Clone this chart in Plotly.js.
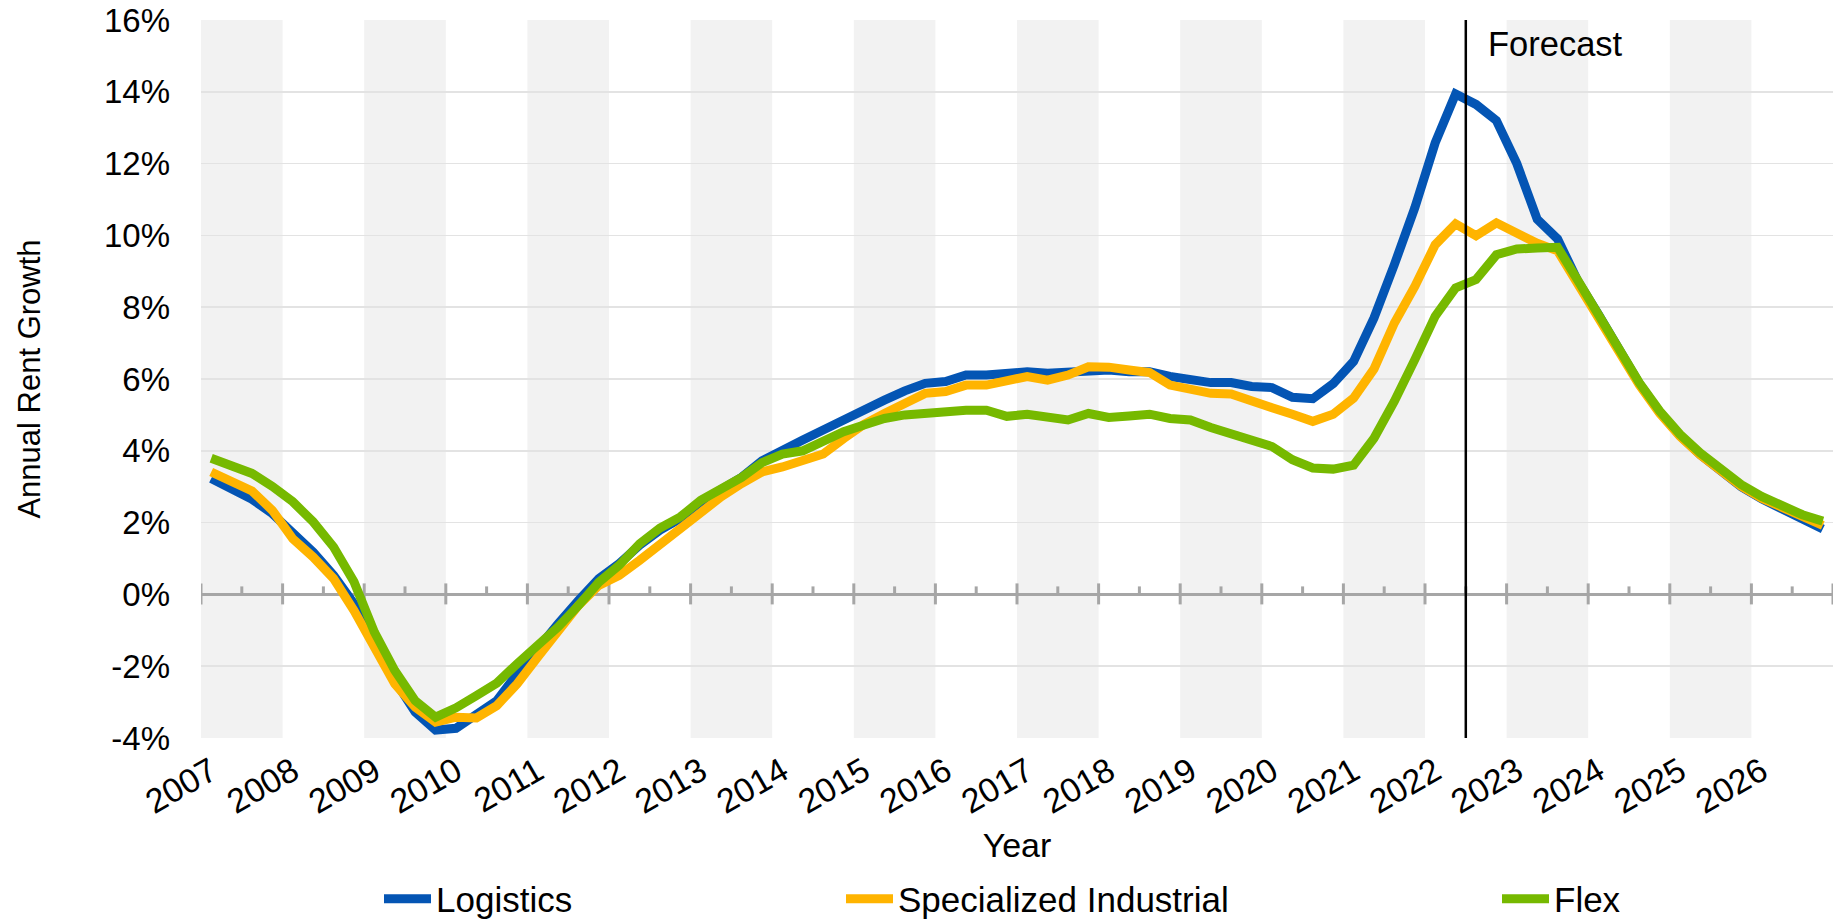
<!DOCTYPE html>
<html>
<head>
<meta charset="utf-8">
<script src="https://cdn.plot.ly/plotly-3.0.1.min.js"></script>
<style>
  html, body { margin: 0; padding: 0; background: #ffffff; }
  #chart { width: 1844px; height: 919px; }
</style>
</head>
<body>
<div id="chart"></div>
<script>
// ---- Data (quarterly, 2007 Q1 – 2026 Q4), annual rent growth in % ----
const startYear = 2007;
const endYear = 2026;
const forecastStart = 2022.5;

const yearLabels = ["2007","2008","2009","2010","2011","2012","2013","2014","2015","2016",
                    "2017","2018","2019","2020","2021","2022","2023","2024","2025","2026"];

const yTickValues = [-4, -2, 0, 2, 4, 6, 8, 10, 12, 14, 16];
const yTickLabels = ["-4%", "-2%", "0%", "2%", "4%", "6%", "8%", "10%", "12%", "14%", "16%"];

const logistics = [
  3.23, 2.95, 2.65, 2.25, 1.69, 1.18, 0.53, -0.26,
  -1.24, -2.40, -3.28, -3.78, -3.73, -3.38, -2.96, -2.21,
  -1.47, -0.82, -0.17, 0.44, 0.86, 1.37, 1.79, 2.11,
  2.58, 2.93, 3.26, 3.72, 4.04, 4.30, 4.58, 4.86,
  5.18, 5.41, 5.67, 5.88, 5.93, 6.11, 6.11, 6.16,
  6.20, 6.16, 6.20, 6.27, 6.25, 6.20, 6.20, 6.07,
  5.97, 5.90, 5.90, 5.79, 5.76, 5.49, 5.45, 5.87,
  6.49, 7.70, 9.19, 10.77, 12.58, 13.94, 13.65, 13.20,
  12.00, 10.45, 9.90, 8.72, 7.80, 6.86, 5.88, 5.08,
  4.42, 3.89, 3.42, 3.00, 2.66, 2.38, 2.10, 1.82
];

const specializedIndustrial = [
  3.41, 3.13, 2.88, 2.34, 1.55, 1.04, 0.44, -0.45,
  -1.52, -2.49, -3.14, -3.56, -3.42, -3.44, -3.10, -2.49,
  -1.75, -1.00, -0.31, 0.25, 0.53, 0.95, 1.41, 1.83,
  2.27, 2.72, 3.09, 3.41, 3.55, 3.74, 3.91, 4.34,
  4.74, 5.04, 5.34, 5.60, 5.65, 5.83, 5.83, 5.93,
  6.07, 5.97, 6.11, 6.34, 6.33, 6.25, 6.18, 5.83,
  5.69, 5.60, 5.58, 5.37, 5.20, 5.02, 4.82, 5.02,
  5.47, 6.28, 7.56, 8.58, 9.74, 10.32, 9.99, 10.35,
  10.04, 9.78, 9.57, 8.65, 7.72, 6.80, 5.84, 5.05,
  4.40, 3.88, 3.42, 3.01, 2.68, 2.42, 2.17, 1.92
];

const flex = [
  3.79, 3.57, 3.37, 3.01, 2.58, 2.02, 1.32, 0.35,
  -1.05, -2.12, -2.96, -3.42, -3.16, -2.82, -2.47, -1.93,
  -1.42, -0.91, -0.31, 0.34, 0.81, 1.41, 1.85, 2.16,
  2.62, 2.95, 3.26, 3.67, 3.91, 4.00, 4.30, 4.53,
  4.72, 4.90, 5.00, 5.06, 5.12, 5.13, 5.13, 4.96,
  5.02, 4.92, 4.86, 5.04, 4.93, 4.97, 5.02, 4.90,
  4.86, 4.65, 4.47, 4.27, 4.12, 3.75, 3.52, 3.49,
  3.60, 4.35, 5.38, 6.54, 7.75, 8.54, 8.77, 9.46,
  9.62, 9.65, 9.67, 8.74, 7.80, 6.86, 5.90, 5.11,
  4.46, 3.94, 3.48, 3.06, 2.73, 2.46, 2.22, 2.04
];

const seriesNames = ["Logistics", "Specialized Industrial", "Flex"];
const seriesColors = ["#0455b4", "#ffb400", "#76b900"];

// ---- Derived positions (quarter centers on a continuous year axis) ----
const quarterX = logistics.map((_, i) => startYear + (i + 0.5) / 4);
const years = [];
for (let y = startYear; y <= endYear; y++) years.push(y);
const boundaries = years.concat([endYear + 1]);
const halfYears = years.map(y => y + 0.5);

const font = "'Liberation Sans', Arial, sans-serif";
const axisGrey = "#a6a6a6";

const traces = [logistics, specializedIndustrial, flex].map((vals, k) => ({
  type: "scatter",
  mode: "lines",
  name: seriesNames[k],
  x: quarterX,
  y: vals,
  line: { color: seriesColors[k], width: 9 },
  legend: k === 0 ? "legend" : ("legend" + (k + 1)),
  hoverinfo: "x+y+name"
}));

const shapes = [];
// alternating shaded year bands
years.forEach((y, idx) => {
  if (idx % 2 === 0) {
    shapes.push({
      type: "rect", xref: "x", yref: "paper",
      x0: y, x1: y + 1, y0: 0, y1: 1,
      fillcolor: "#f2f2f2", line: { width: 0 }, layer: "below"
    });
  }
});
// major tick marks crossing the 0% axis line
boundaries.forEach(b => {
  shapes.push({
    type: "line", xref: "x", yref: "y",
    x0: b, x1: b, ysizemode: "pixel", yanchor: 0, y0: -10, y1: 11,
    line: { color: axisGrey, width: 3 }, layer: "between"
  });
});
// minor tick marks (above the axis line)
halfYears.forEach(h => {
  shapes.push({
    type: "line", xref: "x", yref: "y",
    x0: h, x1: h, ysizemode: "pixel", yanchor: 0, y0: 0, y1: 8,
    line: { color: axisGrey, width: 3 }, layer: "between"
  });
});
// forecast divider
shapes.push({
  type: "line", xref: "x", yref: "paper",
  x0: forecastStart, x1: forecastStart, y0: 0, y1: 1,
  line: { color: "#000000", width: 2.5 }, layer: "above"
});

const legendCommon = {
  orientation: "h",
  xref: "container", yref: "container",
  yanchor: "middle", xanchor: "left",
  y: 1 - 899 / 919,
  font: { family: font, size: 35, color: "#000000" },
  bgcolor: "rgba(0,0,0,0)",
  itemwidth: 47,
  borderwidth: 0
};

const layout = {
  width: 1844,
  height: 919,
  margin: { l: 201, r: 11, t: 20, b: 181, pad: 0 },
  paper_bgcolor: "#ffffff",
  plot_bgcolor: "#ffffff",
  font: { family: font, size: 33, color: "#000000" },
  showlegend: true,
  xaxis: {
    range: [startYear, endYear + 1],
    tickmode: "array",
    tickvals: years.map(y => y + 0.125),
    ticktext: yearLabels,
    tickangle: -30,
    ticks: "",
    ticklabelstandoff: 6,
    showgrid: false,
    zeroline: false,
    showline: false,
    tickfont: { family: font, size: 34, color: "#000000" },
    title: { text: "Year", font: { family: font, size: 34, color: "#000000" }, standoff: 13 },
    automargin: false,
    fixedrange: true
  },
  yaxis: {
    range: [yTickValues[0], yTickValues[yTickValues.length - 1]],
    tickmode: "array",
    tickvals: yTickValues,
    ticktext: yTickLabels,
    ticks: "",
    ticklabelstandoff: 30,
    showgrid: true,
    gridcolor: "#e3e3e3",
    gridwidth: 1.5,
    zeroline: true,
    zerolinecolor: axisGrey,
    zerolinewidth: 3,
    showline: false,
    tickfont: { family: font, size: 33, color: "#000000" },
    title: { text: "Annual Rent Growth", font: { family: font, size: 31, color: "#000000" }, standoff: 54 },
    automargin: false,
    fixedrange: true
  },
  shapes: shapes,
  annotations: [{
    xref: "x", yref: "paper",
    x: forecastStart, y: 0.9665,
    xanchor: "left", yanchor: "middle",
    xshift: 20,
    text: "Forecast",
    showarrow: false,
    font: { family: font, size: 34.5, color: "#000000" }
  }],
  legend: Object.assign({}, legendCommon, { x: 379 / 1844 }),
  legend2: Object.assign({}, legendCommon, { x: 841 / 1844 }),
  legend3: Object.assign({}, legendCommon, { x: 1497 / 1844 })
};

Plotly.newPlot("chart", traces, layout, { staticPlot: true, displayModeBar: false });
</script>
</body>
</html>
